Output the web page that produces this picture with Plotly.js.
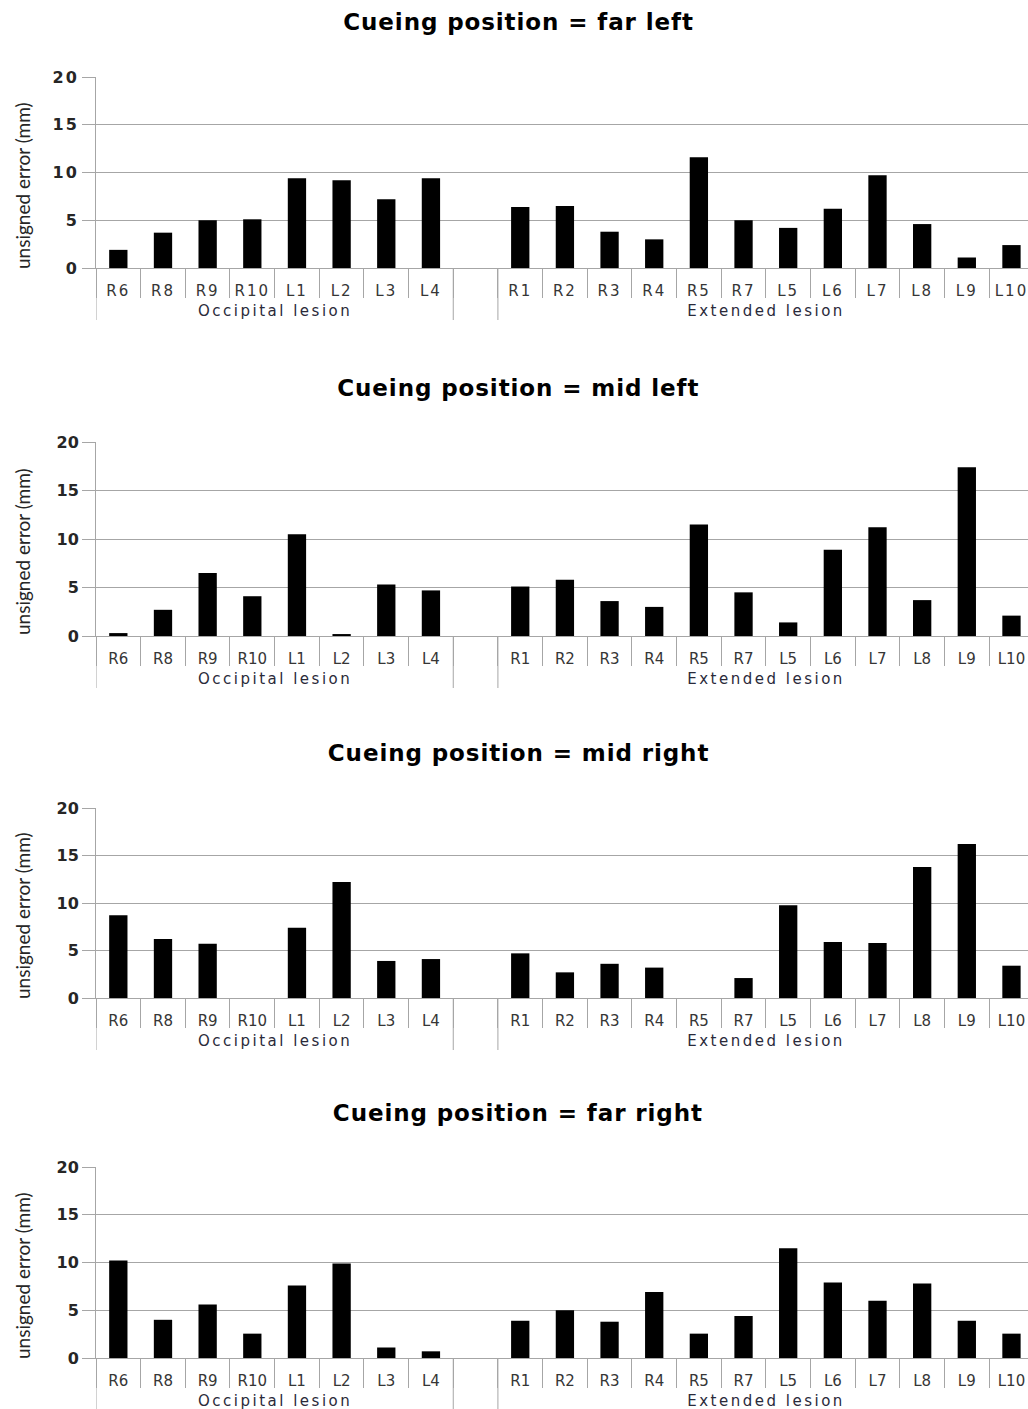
<!DOCTYPE html>
<html>
<head>
<meta charset="utf-8">
<script src="https://cdn.plot.ly/plotly-3.0.1.min.js"></script>
<style>
  html, body { margin: 0; padding: 0; background: #fff; overflow: hidden; }
  #chart { width: 1028px; height: 1409px; }
  #chart .xtick text { letter-spacing: 2px; }
  #chart .ytick text { letter-spacing: 2px; }
  #chart .grp-label .annotation-text { letter-spacing: 2.5px; }
  #chart .panel-title .annotation-text { letter-spacing: 0.9px; }
</style>
</head>
<body>
<div id="chart"></div>
<script>
// ---- data ----
const panelTitles = [
  'Cueing position = far left',
  'Cueing position = mid left',
  'Cueing position = mid right',
  'Cueing position = far right'
];
const occipitalLabel = 'Occipital lesion';
const extendedLabel = 'Extended lesion';
const occipitalCats = ['R6','R8','R9','R10','L1','L2','L3','L4'];
const extendedCats = ['R1','R2','R3','R4','R5','R7','L5','L6','L7','L8','L9','L10'];

const farLeftOcc  = [1.9, 3.7, 5.0, 5.1, 9.4, 9.2, 7.2, 9.4];
const farLeftExt  = [6.4, 6.5, 3.8, 3.0, 11.6, 5.0, 4.2, 6.2, 9.7, 4.6, 1.1, 2.4];
const midLeftOcc  = [0.3, 2.7, 6.5, 4.1, 10.5, 0.2, 5.3, 4.7];
const midLeftExt  = [5.1, 5.8, 3.6, 3.0, 11.5, 4.5, 1.4, 8.9, 11.2, 3.7, 17.4, 2.1];
const midRightOcc = [8.7, 6.2, 5.7, 0, 7.4, 12.2, 3.9, 4.1];
const midRightExt = [4.7, 2.7, 3.6, 3.2, 0, 2.1, 9.75, 5.9, 5.8, 13.8, 16.2, 3.4];
const farRightOcc = [10.2, 4.0, 5.6, 2.55, 7.6, 9.9, 1.1, 0.7];
const farRightExt = [3.9, 5.0, 3.8, 6.9, 2.55, 4.4, 11.5, 7.9, 6.0, 7.8, 3.9, 2.55];

const yTitle = 'unsigned error (mm)';
const yTickVals = [0, 5, 10, 15, 20];

// ---- build ----
const gapCat = ' ';
const catRow = [].concat(occipitalCats, [gapCat], extendedCats);
const panelData = [
  [farLeftOcc, farLeftExt],
  [midLeftOcc, midLeftExt],
  [midRightOcc, midRightExt],
  [farRightOcc, farRightExt]
];
const nOcc = occipitalCats.length;
const nExt = extendedCats.length;
// group boundaries (category index space) and group centres
const groupBounds = [-0.5, nOcc - 0.5, nOcc + 0.5];
const groupCentres = [(nOcc - 1) / 2, nOcc + 1 + (nExt - 1) / 2];
const groupNames = [occipitalLabel, extendedLabel];

const W = 1028, H = 1409;
const plotLeft = 96;
const panelPix = [[77, 268], [442, 636], [808, 998], [1167, 1358]];
const titlePix = [22, 388, 753, 1113];
const yTitlePix = [186, 552, 916, 1276];
const groupLabelOffset = 43;   // px below axis
const dividerDepth = 52;       // px below axis

const gridCol = '#a6a6a6';
const textCol = '#363636';

const traces = [];
const layout = {
  width: W, height: H,
  margin: {l: 0, r: 0, t: 0, b: 0},
  paper_bgcolor: '#fff', plot_bgcolor: '#fff',
  showlegend: false,
  font: {family: 'DejaVu Sans, Verdana, sans-serif', color: textCol},
  annotations: [],
  shapes: []
};

panelData.forEach((pd, i) => {
  const n = i === 0 ? '' : String(i + 1);
  const y = [].concat(pd[0], [null], pd[1]);
  traces.push({
    type: 'bar',
    x: catRow,
    y: y,
    width: 0.41,
    marker: {color: '#000000', line: {width: 0}},
    xaxis: 'x' + n, yaxis: 'y' + n,
    hoverinfo: 'x+y'
  });
  const top = panelPix[i][0], bot = panelPix[i][1];
  layout['xaxis' + n] = {
    type: 'category',
    categoryorder: 'array', categoryarray: catRow,
    domain: [plotLeft / W, 1],
    anchor: 'y' + n,
    range: [-0.5, 20.37],
    showline: true, linecolor: gridCol, linewidth: 1,
    ticks: 'outside', tickson: 'boundaries', ticklen: 29, tickcolor: gridCol, tickwidth: 1,
    ticklabelstandoff: 9,
    tickangle: 0,
    tickfont: {family: 'DejaVu Sans, Verdana, sans-serif', size: 15, color: textCol},
    showgrid: false, zeroline: false, fixedrange: true
  };
  layout['yaxis' + n] = {
    domain: [1 - bot / H, 1 - top / H],
    anchor: 'x' + n,
    range: [0, 20],
    tickvals: yTickVals,
    ticks: 'outside', ticklen: 13, tickcolor: gridCol, tickwidth: 1,
    showline: true, linecolor: gridCol, linewidth: 1,
    showgrid: true, gridcolor: gridCol, gridwidth: 1,
    zeroline: false,
    tickfont: {family: 'DejaVu Sans, Verdana, sans-serif', size: 16, color: '#262626', weight: 'bold'},
    fixedrange: true
  };
  // long group dividers below the axis
  groupBounds.forEach(b => {
    layout.shapes.push({
      type: 'line', xref: 'x' + n, yref: 'paper',
      x0: b, x1: b,
      y0: 1 - bot / H, y1: 1 - (bot + dividerDepth) / H,
      line: {color: gridCol, width: 1}
    });
  });
  // group labels
  groupNames.forEach((g, k) => {
    layout.annotations.push({
      text: g, name: 'grp',
      xref: 'x' + n, yref: 'paper',
      x: groupCentres[k], y: 1 - (bot + groupLabelOffset) / H,
      xanchor: 'center', yanchor: 'middle',
      showarrow: false,
      font: {family: 'DejaVu Sans, Verdana, sans-serif', size: 15, color: '#2a2a3a'}
    });
  });
  // panel title
  layout.annotations.push({
    text: '<b>' + panelTitles[i] + '</b>', name: 'title',
    xref: 'paper', yref: 'paper',
    x: 518 / W, y: 1 - titlePix[i] / H,
    xanchor: 'center', yanchor: 'middle',
    showarrow: false,
    font: {family: 'DejaVu Sans, Verdana, sans-serif', size: 23, color: '#000'}
  });
  // y-axis title
  layout.annotations.push({
    text: yTitle, name: 'ytitle',
    xref: 'paper', yref: 'paper',
    x: 22 / W, y: 1 - yTitlePix[i] / H,
    xanchor: 'center', yanchor: 'middle',
    textangle: -90,
    showarrow: false,
    font: {family: 'Lato, Carlito, sans-serif', size: 19, color: '#262626'}
  });
});

Plotly.newPlot('chart', traces, layout, {displayModeBar: false, staticPlot: true}).then(gd => {
  // tag annotations so CSS letter-spacing applies to them
  const anns = gd._fullLayout.annotations;
  gd.querySelectorAll('.annotation').forEach(el => {
    const idx = +el.getAttribute('data-index');
    if (!anns[idx]) return;
    if (anns[idx].name === 'grp') el.classList.add('grp-label');
    if (anns[idx].name === 'title') el.classList.add('panel-title');
  });
});
</script>
</body>
</html>
